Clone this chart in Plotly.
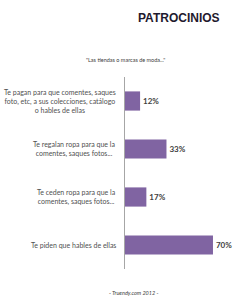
import plotly.graph_objects as go

categories = [
    "Te pagan para que comentes, saques<br>foto, etc, a sus colecciones, catálogo<br>o hables de ellas",
    "Te regalan ropa para que la<br>comentes, saques fotos...",
    "Te ceden ropa para que la<br>comentes, saques fotos...",
    "Te piden que hables de ellas",
]
values = [12, 33, 17, 70]
title_text = "PATROCINIOS"
subtitle_text = "\"Las tiendas o marcas de moda...\""
footer_text = "- Truendy.com 2012 -"

ids = [f"c{i}" for i in range(len(categories))]

fig = go.Figure()
fig.add_trace(go.Bar(
    x=values, y=ids, orientation="h",
    marker=dict(color="#8064A2", line=dict(width=0)),
    width=0.4,
    text=[f"{v}%" for v in values],
    textposition="outside",
    textfont=dict(family="Lato, Liberation Sans, sans-serif", size=8, color="#404040", weight="bold"),
    cliponaxis=False,
))

annotations = []
for cid, lab in zip(ids, categories):
    annotations.append(dict(
        x=0, xref="paper", y=cid, yref="y", text=lab, showarrow=False,
        xanchor="right", align="center", xshift=-7,
        font=dict(family="Lato, Liberation Sans, sans-serif", size=7, color="#505050"),
    ))
annotations.append(dict(
    x=0.843, y=1.307, xref="paper", yref="paper", text=f"<b>{title_text}</b>",
    showarrow=False, xanchor="right", yanchor="middle",
    font=dict(family="Liberation Sans Narrow, Liberation Sans, sans-serif", size=12,
              color="#1f1a2e"),
))
annotations.append(dict(
    x=0.004, y=1.089, xref="paper", yref="paper", text=subtitle_text,
    showarrow=False, xanchor="center", yanchor="middle",
    font=dict(family="Lato, Liberation Sans, sans-serif", size=5.5, color="#404040"),
))
annotations.append(dict(
    x=0.078, y=-0.125, xref="paper", yref="paper", text=f"<i>{footer_text}</i>",
    showarrow=False, xanchor="center", yanchor="middle",
    font=dict(family="Lato, Liberation Sans, sans-serif", size=5.5, color="#404040"),
))

fig.update_layout(
    width=245, height=300,
    margin=dict(l=125, r=5, t=77, b=31),
    paper_bgcolor="white", plot_bgcolor="white",
    showlegend=False,
    annotations=annotations,
    xaxis=dict(range=[0, 91.5], visible=False, fixedrange=True),
    yaxis=dict(
        categoryorder="array", categoryarray=ids, autorange="reversed",
        showticklabels=False, showline=True, linecolor="#a6a6a6", linewidth=1,
        ticks="", showgrid=False, zeroline=False,
    ),
)

fig.write_html("out.html")
